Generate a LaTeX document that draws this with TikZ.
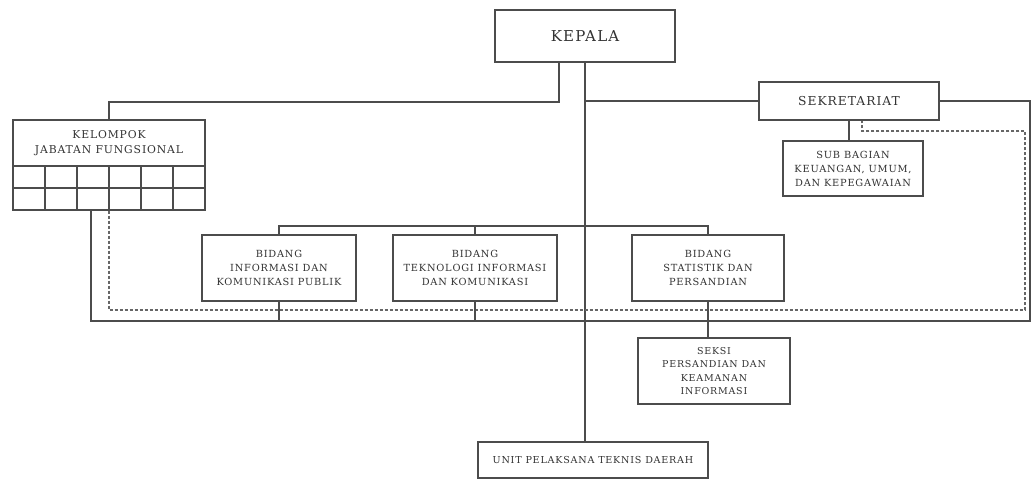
\documentclass[tikz,border=0pt]{standalone}
\usepackage{fontspec}
\setmainfont{DejaVu Serif}[LetterSpace=8]
\usepackage{tikz}

\begin{document}
\begin{tikzpicture}
  [x=1pt,y=-1pt,
   box_style/.style={rectangle,draw=black!70,line width=1.2pt,align=center,inner sep=0pt,text=black!80,font=\fontsize{9.8}{14}\selectfont},
   edge_style/.style={draw=black!70,line width=1.2pt},
   dash_style/.style={draw=black!60,line width=1.2pt,dash pattern=on 3pt off 2pt}]
  \useasboundingbox (0,0) rectangle (1034,481);
  \node[box_style,minimum width=180pt,minimum height=52pt,font=\fontsize{15}{18}\selectfont] (kepala) at (585,36) {KEPALA};
  \node[box_style,minimum width=180pt,minimum height=38pt,font=\fontsize{12.3}{14}\selectfont] (sekre) at (849,101) {SEKRETARIAT};
  \node[box_style,minimum width=140pt,minimum height=55pt,font=\fontsize{9.8}{14}\selectfont] (sub) at (853,168.5) {SUB BAGIAN\\KEUANGAN, UMUM,\\DAN KEPEGAWAIAN};
  \node[box_style,minimum width=192pt,minimum height=46pt,font=\fontsize{10.8}{15}\selectfont] (kel) at (109,143) {KELOMPOK\\JABATAN FUNGSIONAL};
  \node[box_style,minimum width=192pt,minimum height=44pt] (kelgrid) at (109,188) {};
  \node[box_style,minimum width=154pt,minimum height=66pt] (bid1) at (279,268) {BIDANG\\INFORMASI DAN\\KOMUNIKASI PUBLIK};
  \node[box_style,minimum width=164pt,minimum height=66pt] (bid2) at (475,268) {BIDANG\\TEKNOLOGI INFORMASI\\DAN KOMUNIKASI};
  \node[box_style,minimum width=152pt,minimum height=66pt] (bid3) at (708,268) {BIDANG\\STATISTIK DAN\\PERSANDIAN};
  \node[box_style,minimum width=152pt,minimum height=66pt,font=\fontsize{9.5}{13.3}\selectfont] (seksi) at (714,371) {SEKSI\\PERSANDIAN DAN\\KEAMANAN\\INFORMASI};
  \node[box_style,minimum width=230pt,minimum height=36pt,font=\fontsize{9.6}{12}\selectfont] (upt) at (593,460) {UNIT PELAKSANA TEKNIS DAERAH};
  \draw[edge_style] (kelgrid.west) -- (kelgrid.east);
  \foreach \gx in {45,77,109,141,173}
    \draw[edge_style] (\gx,166) -- (\gx,210);
  \coordinate (kl) at (559,102);
  \coordinate (bus) at (586,226);
  \coordinate (rt) at (1030,321);
  \coordinate (dr) at (1025,310);
  \coordinate (dt) at (1025,131);
  \draw[edge_style] ([xshift=-26pt]kepala.south) -- (kl) -| (kel.north);
  \draw[edge_style] (kepala.south) -- (kepala.south |- upt.north);
  \draw[edge_style] (kepala.south |- sekre.west) -- (sekre.west);
  \draw[edge_style] (sekre.south) -- (sekre.south |- sub.north);
  \draw[edge_style] (sekre.east) -| (rt) -| ([xshift=-18pt]kelgrid.south);
  \draw[dash_style] (kelgrid.south) |- (dr) -- (dt) -| ([xshift=13pt]sekre.south);
  \draw[edge_style] (bid1.north) |- (bus) -| (bid3.north);
  \draw[edge_style] (bid2.north) -- (bid2.north |- bus);
  \draw[edge_style] (bid1.south) -- (bid1.south |- rt);
  \draw[edge_style] (bid2.south) -- (bid2.south |- rt);
  \draw[edge_style] (bid3.south) -- (bid3.south |- seksi.north);
\end{tikzpicture}
\end{document}
